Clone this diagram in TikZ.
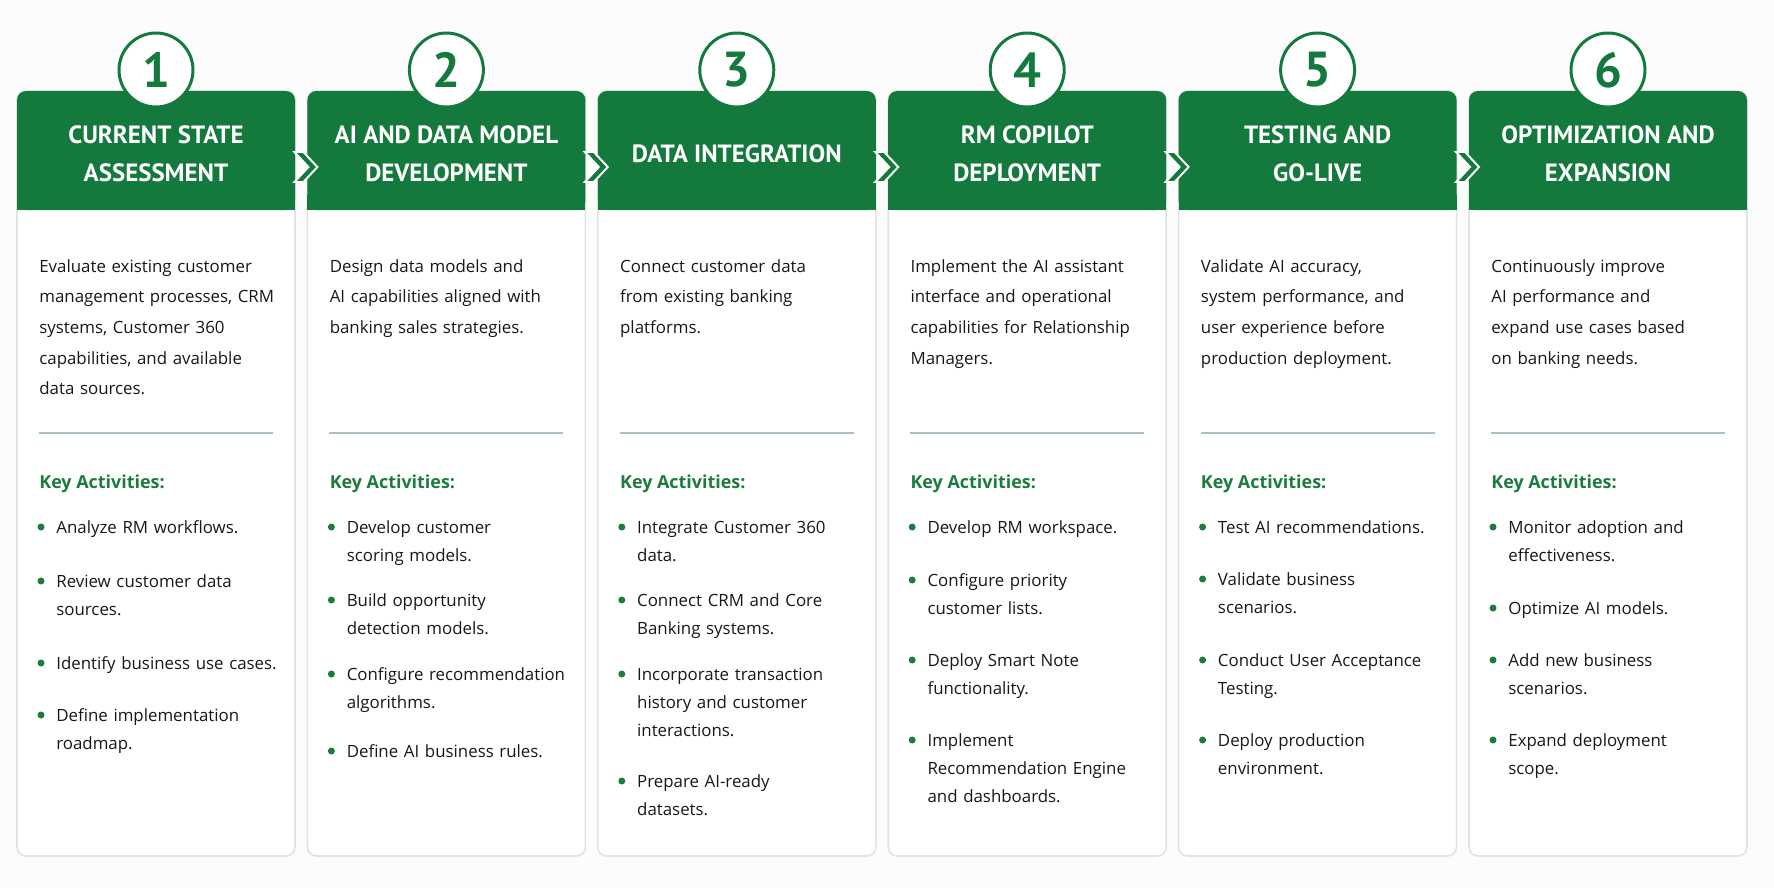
\documentclass[tikz,border=0pt]{standalone}
\usepackage{fontspec}
\setmainfont{Open Sans}
\newfontfamily\headfont{PT Sans}
\usetikzlibrary{calc}
\definecolor{phasegreen}{RGB}{20,121,60}
\definecolor{keygreen}{RGB}{27,124,62}
\definecolor{pagebg}{RGB}{252,252,252}
\definecolor{cardline}{RGB}{221,229,225}
\definecolor{ruleline}{RGB}{168,196,182}
\definecolor{bodytext}{RGB}{24,24,24}
\def\cardw{278}
\def\pitch{290.4}
\tikzset{
	card/.style={fill=white, draw=cardline, line width=0.9pt, rounded corners=0.18cm},
	headband/.style={fill=phasegreen, rounded corners=0.18cm},
	numcircle/.style={circle, fill=white, draw=phasegreen, line width=1.7pt, minimum size=1.48cm, inner sep=0pt, text=phasegreen, font=\headfont\bfseries\fontsize{28}{30}\selectfont},
	phasetitle/.style={text=white, align=center, inner sep=0pt, font=\headfont\bfseries\fontsize{14.2}{21.5}\selectfont},
	desctext/.style={anchor=base west, inner sep=0pt, text width=5.3cm, align=left, text=bodytext, font=\fontsize{9.6}{17.5}\selectfont},
	keyhead/.style={anchor=base west, inner sep=0pt, text=keygreen, font=\bfseries\fontsize{10.2}{12}\selectfont},
	itemtext/.style={anchor=base west, inner sep=0pt, text width=5cm, align=left, text=bodytext, font=\fontsize{9.6}{16.2}\selectfont},
	itemdot/.style={fill=keygreen},
	divider/.style={draw=ruleline, line width=0.85pt},
	chevron/.style={fill=phasegreen, draw=white, line width=1.1pt, line join=miter},
}
\begin{document}
\begin{tikzpicture}[x=0.02cm, y=-0.02cm]
		%%%%% START %%%%%
		
		\useasboundingbox (0, 0) rectangle (1774, 887);
		\fill[pagebg] (0, 0) rectangle (1774, 887);
		
		% the six phase cards
		\foreach \i/\ttl/\dsc in {
			1/{CURRENT STATE\\ASSESSMENT}/{Evaluate existing customer\\management processes, CRM\\systems, Customer 360\\capabilities, and available\\data sources.},
			2/{AI AND DATA MODEL\\DEVELOPMENT}/{Design data models and\\AI capabilities aligned with\\banking sales strategies.},
			3/{DATA INTEGRATION}/{Connect customer data\\from existing banking\\platforms.},
			4/{RM COPILOT\\DEPLOYMENT}/{Implement the AI assistant\\interface and operational\\capabilities for Relationship\\Managers.},
			5/{TESTING AND\\GO-LIVE}/{Validate AI accuracy,\\system performance, and\\user experience before\\production deployment.},
			6/{OPTIMIZATION AND\\EXPANSION}/{Continuously improve\\AI performance and\\expand use cases based\\on banking needs.}}{
			\pgfmathsetmacro\xl{17+(\i-1)*\pitch}
			\draw[card] (\xl, 91) rectangle (\xl+\cardw, 856);
			\fill[headband] (\xl, 91) rectangle (\xl+\cardw, 210);
			\fill[phasegreen] (\xl, 195) rectangle (\xl+\cardw, 210);
			\node[numcircle] (num\i) at (\xl+\cardw/2, 70) {\i};
			\node[phasetitle] (title\i) at (\xl+\cardw/2, 154) {\ttl};
			\node[desctext] (desc\i) at (\xl+22, 272) {\dsc};
			\draw[divider] (\xl+22, 433) -- (\xl+256, 433);
			\node[keyhead] (key\i) at (\xl+22, 488) {Key Activities:};
		}
		
		% key activities, one line per bullet
		\foreach \i/\y/\txt in {
			1/533/{Analyze RM workflows.}, 1/587/{Review customer data\\sources.},
			1/669/{Identify business use cases.}, 1/721/{Define implementation\\roadmap.},
			2/533/{Develop customer\\scoring models.}, 2/606/{Build opportunity\\detection models.},
			2/680/{Configure recommendation\\algorithms.}, 2/757/{Define AI business rules.},
			3/533/{Integrate Customer 360\\data.}, 3/606/{Connect CRM and Core\\Banking systems.},
			3/680/{Incorporate transaction\\history and customer\\interactions.}, 3/787/{Prepare AI-ready\\datasets.},
			4/533/{Develop RM workspace.}, 4/586/{Configure priority\\customer lists.},
			4/666/{Deploy Smart Note\\functionality.}, 4/746/{Implement\\Recommendation Engine\\and dashboards.},
			5/533/{Test AI recommendations.}, 5/585/{Validate business\\scenarios.},
			5/666/{Conduct User Acceptance\\Testing.}, 5/746/{Deploy production\\environment.},
			6/533/{Monitor adoption and\\effectiveness.}, 6/614/{Optimize AI models.},
			6/666/{Add new business\\scenarios.}, 6/746/{Expand deployment\\scope.}}{
			\pgfmathsetmacro\xl{17+(\i-1)*\pitch}
			\fill[itemdot] (\xl+24, \y-6) circle[radius=0.07cm];
			\node[itemtext] (item\i-\y) at (\xl+39, \y) {\txt};
		}
		
		% chevrons between the cards
		\foreach \i in {1,...,5}{
			\coordinate (chev\i) at (15+\i*\pitch, 167);
			\begin{scope}[shift={(chev\i)}]
				\draw[chevron] (-11, -15) -- (-2, -15) -- (12, 0) -- (-2, 15) -- (-11, 15) -- (3, 0) -- cycle;
			\end{scope}
		}
		
		%%%%% END %%%%%
\end{tikzpicture}
\end{document}
